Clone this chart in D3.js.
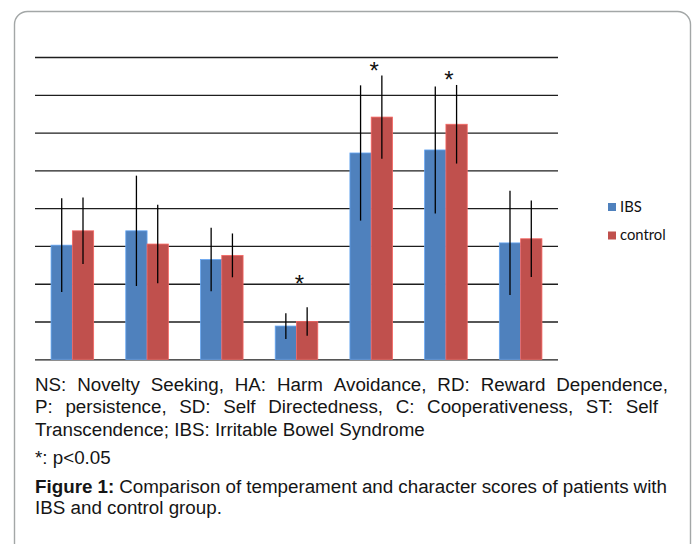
<!DOCTYPE html>
<html>
<head>
<meta charset="utf-8">
<script src="https://cdn.jsdelivr.net/npm/d3@7"></script>
<style>
  body { margin: 0; background: #fff; }
  svg { display: block; }
</style>
</head>
<body>
<svg id="chart" width="697" height="544"></svg>
<script>
// TCI subscales (no axis labels are shown in the figure)
const categories = ["NS", "HA", "RD", "P", "SD", "C", "ST"];
const series = ["IBS", "control"];
const ibsMean = [15.1, 17.0, 13.2, 4.4, 27.3, 27.7, 15.4];
const ibsSd = [6.2, 7.3, 4.2, 1.7, 8.95, 8.4, 6.9];
const ctrlMean = [17.0, 15.25, 13.75, 5.0, 32.05, 31.1, 15.95];
const ctrlSd = [4.4, 5.2, 2.9, 1.9, 5.5, 5.2, 5.05];
// significance markers (category, height in data units)
const stars = [["P", 10.7], ["SD", 38.9], ["C", 37.6]];
const gridTicks = [0, 5, 10, 15, 20, 25, 30, 35, 40];

const captionLines = [
    {words: "NS: Novelty Seeking, HA: Harm Avoidance, RD: Reward Dependence,", justify: 668},
    {words: "P: persistence, SD: Self Directedness, C: Cooperativeness, ST: Self", justify: 658},
    {words: "Transcendence; IBS: Irritable Bowel Syndrome"},
    {words: "*: p<0.05"},
    {words: "Figure 1: Comparison of temperament and character scores of patients with", bold: 2, justify: 667},
    {words: "IBS and control group."}
];
const captionY = [390.7, 413.3, 435.7, 464.3, 492.5, 514];

const colors = {IBS: "#4F81BD", control: "#C0504D"};

const svg = d3.select("#chart");

// rounded frame
svg.append("rect")
    .attr("x", 14.5).attr("y", 11.5)
    .attr("width", 676).attr("height", 580)
    .attr("rx", 13)
    .attr("fill", "none")
    .attr("stroke", "#a3a7a7")
    .attr("stroke-width", 1.4);

const plotLeft = 35, plotRight = 558, plotTop = 57, plotBottom = 359.3;

const x = d3.scaleBand().domain(categories)
    .range([plotLeft, plotRight])
    .paddingInner(0.43).paddingOuter(0.215);
const xs = d3.scaleBand().domain(series).range([0, x.bandwidth()]);
const y = d3.scaleLinear().domain([0, 40]).range([plotBottom, plotTop]);

// gridlines
const grid = svg.append("g")
    .attr("transform", `translate(${plotLeft},0)`)
    .call(d3.axisLeft(y).tickValues(gridTicks).tickSize(-(plotRight - plotLeft)).tickFormat(""));
grid.select(".domain").remove();
grid.selectAll(".tick line").attr("stroke", "#1e1e1e").attr("stroke-width", 1.3);

const rows = categories.map((c, i) => [
    {cat: c, s: "IBS", v: ibsMean[i], sd: ibsSd[i]},
    {cat: c, s: "control", v: ctrlMean[i], sd: ctrlSd[i]}
]).flat();

// bars
svg.append("g").selectAll("rect")
    .data(rows)
    .join("rect")
    .attr("x", d => x(d.cat) + xs(d.s))
    .attr("y", d => y(d.v))
    .attr("width", xs.bandwidth())
    .attr("height", d => y(0) - y(d.v))
    .attr("fill", d => colors[d.s])
    .attr("stroke", d => d3.color(colors[d.s]).brighter(0.7))
    .attr("stroke-width", 0.8);

// error bars
svg.append("g").selectAll("line")
    .data(rows)
    .join("line")
    .attr("x1", d => x(d.cat) + xs(d.s) + xs.bandwidth() / 2)
    .attr("x2", d => x(d.cat) + xs(d.s) + xs.bandwidth() / 2)
    .attr("y1", d => y(d.v + d.sd))
    .attr("y2", d => y(d.v - d.sd))
    .attr("stroke", "#000")
    .attr("stroke-width", 1.3);

// asterisks
const starSize = 24;
svg.append("g").selectAll("text")
    .data(stars)
    .join("text")
    .attr("x", d => x(d[0]) + x.bandwidth() / 2 + 3)
    .attr("y", d => y(d[1]) + starSize * 0.55)
    .attr("text-anchor", "middle")
    .attr("font-family", "Liberation Sans, Arial, sans-serif")
    .attr("font-size", starSize)
    .attr("fill", "#111")
    .text("*");

// legend
const legend = svg.append("g").attr("transform", "translate(608,0)");
series.forEach((s, i) => {
    const ly = 203 + i * 28.5;
    legend.append("rect")
        .attr("x", 0).attr("y", ly)
        .attr("width", 8).attr("height", 8)
        .attr("fill", colors[s]);
    legend.append("text")
        .attr("x", 12).attr("y", ly + 8.5)
        .attr("font-family", "Lato, sans-serif")
        .attr("font-size", 14.8)
        .attr("fill", "#111")
        .text(s);
});

// caption, word by word so justified lines can be spread out
const capSize = 18.8;
const cap = svg.append("g")
    .attr("font-family", "Liberation Sans, Arial, sans-serif")
    .attr("font-size", capSize)
    .attr("fill", "#151515");

captionLines.forEach((line, li) => {
    const words = line.words.split(" ");
    const t = cap.append("text").attr("y", captionY[li]);
    const spans = words.map((w, wi) => t.append("tspan")
        .attr("font-weight", line.bold && wi < line.bold ? "bold" : null)
        .text(w));
    const widths = spans.map(s => s.node().getComputedTextLength());
    let gap = capSize * 0.278;
    if (line.justify) {
        gap = (line.justify - plotLeft - d3.sum(widths)) / (words.length - 1);
    }
    let cx = plotLeft;
    spans.forEach((s, wi) => {
        s.attr("x", cx);
        cx += widths[wi] + gap;
    });
});
</script>
</body>
</html>
